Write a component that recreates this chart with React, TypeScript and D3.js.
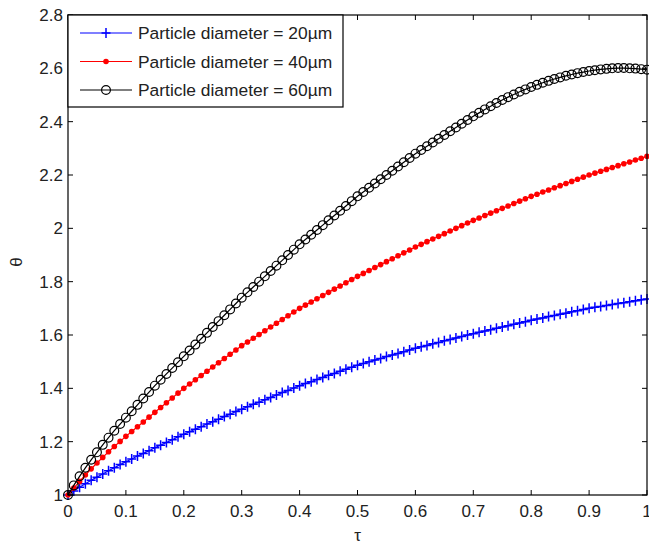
import { scaleLinear, line, range } from 'd3';

// tau grid (0 .. 1, step 0.01)
const tau = range(0, 101).map((i) => i / 100);

// theta values
const d20 = [
  1.0, 1.015, 1.029, 1.042, 1.055, 1.067, 1.079, 1.091, 1.102, 1.114, 1.125,
  1.135, 1.146, 1.156, 1.166, 1.177, 1.187, 1.197, 1.207, 1.218, 1.228,
  1.237, 1.247, 1.256, 1.266, 1.275, 1.284, 1.294, 1.303, 1.313, 1.322,
  1.331, 1.34, 1.348, 1.357, 1.366, 1.375, 1.384, 1.392, 1.401, 1.41,
  1.418, 1.425, 1.433, 1.441, 1.449, 1.456, 1.464, 1.472, 1.479, 1.487,
  1.493, 1.5, 1.506, 1.512, 1.519, 1.525, 1.531, 1.537, 1.544, 1.55,
  1.556, 1.561, 1.567, 1.572, 1.578, 1.583, 1.589, 1.594, 1.6, 1.605,
  1.61, 1.615, 1.62, 1.625, 1.63, 1.635, 1.64, 1.645, 1.65, 1.655,
  1.66, 1.664, 1.669, 1.673, 1.678, 1.682, 1.687, 1.691, 1.696, 1.7,
  1.704, 1.707, 1.711, 1.714, 1.718, 1.721, 1.725, 1.728, 1.732, 1.735,
];

const d40 = [
  1.0, 1.026, 1.051, 1.075, 1.098, 1.12, 1.141, 1.162, 1.182, 1.201, 1.22,
  1.238, 1.256, 1.274, 1.292, 1.31, 1.328, 1.346, 1.364, 1.382, 1.4,
  1.416, 1.432, 1.448, 1.464, 1.48, 1.496, 1.512, 1.528, 1.544, 1.56,
  1.574, 1.588, 1.602, 1.616, 1.63, 1.644, 1.658, 1.672, 1.686, 1.7,
  1.712, 1.724, 1.736, 1.748, 1.76, 1.772, 1.784, 1.796, 1.808, 1.82,
  1.831, 1.842, 1.853, 1.864, 1.875, 1.886, 1.897, 1.908, 1.919, 1.93,
  1.94, 1.95, 1.96, 1.97, 1.98, 1.99, 2.0, 2.01, 2.02, 2.03,
  2.039, 2.048, 2.057, 2.066, 2.075, 2.084, 2.093, 2.102, 2.111, 2.12,
  2.128, 2.136, 2.144, 2.152, 2.16, 2.168, 2.176, 2.184, 2.192, 2.2,
  2.207, 2.214, 2.221, 2.228, 2.235, 2.242, 2.249, 2.256, 2.263, 2.27,
];

const d60 = [
  1.0, 1.036, 1.07, 1.102, 1.132, 1.16, 1.188, 1.215, 1.241, 1.266, 1.29,
  1.314, 1.338, 1.362, 1.386, 1.41, 1.432, 1.454, 1.476, 1.498, 1.52,
  1.542, 1.564, 1.586, 1.608, 1.63, 1.652, 1.674, 1.696, 1.718, 1.74,
  1.76, 1.78, 1.8, 1.82, 1.84, 1.86, 1.88, 1.9, 1.92, 1.94,
  1.958, 1.976, 1.994, 2.012, 2.03, 2.048, 2.066, 2.084, 2.102, 2.12,
  2.136, 2.152, 2.168, 2.184, 2.2, 2.216, 2.232, 2.248, 2.264, 2.28,
  2.294, 2.308, 2.322, 2.336, 2.35, 2.364, 2.378, 2.392, 2.406, 2.42,
  2.433, 2.446, 2.458, 2.47, 2.481, 2.492, 2.502, 2.512, 2.521, 2.53,
  2.538, 2.546, 2.553, 2.56, 2.566, 2.572, 2.577, 2.582, 2.586, 2.59,
  2.593, 2.596, 2.598, 2.6, 2.601, 2.601, 2.6, 2.599, 2.597, 2.595,
];

const xTicks = [0, 0.1, 0.2, 0.3, 0.4, 0.5, 0.6, 0.7, 0.8, 0.9, 1];
const yTicks = [1, 1.2, 1.4, 1.6, 1.8, 2, 2.2, 2.4, 2.6, 2.8];
const legendLabels = [
  'Particle diameter = 20\u00b5m',
  'Particle diameter = 40\u00b5m',
  'Particle diameter = 60\u00b5m',
];

const FONT = '"Liberation Sans", Arial, sans-serif';

const Marker = ({ kind, x, y, color }) => {
  if (kind === 'plus') {
    return (
      <path d={`M${x - 4.5},${y}H${x + 4.5}M${x},${y - 5}V${y + 5}`} stroke={color} strokeWidth={1.5} fill="none" />
    );
  }
  if (kind === 'dot') {
    return <circle cx={x} cy={y} r={2.8} fill={color} />;
  }
  return <circle cx={x} cy={y} r={4.4} fill="none" stroke={color} strokeWidth={1.2} />;
};

const App = () => {
  const width = 649;
  const height = 545;
  const left = 68;
  const right = 647;
  const top = 15;
  const bottom = 495;

  const x = scaleLinear().domain([0, 1]).range([left, right]);
  const y = scaleLinear().domain([1, 2.8]).range([bottom, top]);

  const series = [
    { values: d20, color: '#0000ff', kind: 'plus' },
    { values: d40, color: '#ff0000', kind: 'dot' },
    { values: d60, color: '#000000', kind: 'circle' },
  ];

  const lineGen = line()
    .x((d) => x(d[0]))
    .y((d) => y(d[1]));

  const tick = 5;

  return (
    <svg width={width} height={height} style={{ position: 'absolute', left: 0, top: 0, background: '#fff' }} fontFamily={FONT}>
      <rect x={0} y={0} width={width} height={height} fill="#fff" />

      {series.map((s, si) => {
        const pts = tau.map((t, i) => [t, s.values[i]]);
        return (
          <g key={si}>
            <path d={lineGen(pts)} fill="none" stroke={s.color} strokeWidth={1.2} />
            {pts.map((p, i) => (
              <Marker key={i} kind={s.kind} x={x(p[0])} y={y(p[1])} color={s.color} />
            ))}
          </g>
        );
      })}

      {/* axes box */}
      <rect x={left} y={top} width={right - left} height={bottom - top} fill="none" stroke="#000" strokeWidth={1.2} />

      {xTicks.map((t) => (
        <g key={'x' + t}>
          <line x1={x(t)} x2={x(t)} y1={bottom} y2={bottom - tick} stroke="#000" />
          <line x1={x(t)} x2={x(t)} y1={top} y2={top + tick} stroke="#000" />
          <text x={x(t)} y={517} fontSize={17} textAnchor="middle" fill="#222">
            {t}
          </text>
        </g>
      ))}

      {yTicks.map((t) => (
        <g key={'y' + t}>
          <line x1={left} x2={left + tick} y1={y(t)} y2={y(t)} stroke="#000" />
          <line x1={right} x2={right - tick} y1={y(t)} y2={y(t)} stroke="#000" />
          <text x={63} y={y(t) + 6} fontSize={17} textAnchor="end" fill="#222">
            {t}
          </text>
        </g>
      ))}

      <text x={(left + right) / 2} y={541} fontSize={17} textAnchor="middle" fill="#222">
        τ
      </text>
      <text transform={`translate(22, 262) rotate(-90)`} fontSize={17} textAnchor="middle" fill="#222">
        θ
      </text>

      {/* legend */}
      <g>
        <rect x={68} y={15} width={275} height={92} fill="#fff" stroke="#000" strokeWidth={1.2} />
        {series.map((s, i) => {
          const ly = 33 + i * 28.5;
          return (
            <g key={'l' + i}>
              <line x1={80} x2={132} y1={ly} y2={ly} stroke={s.color} strokeWidth={1.2} />
              <Marker kind={s.kind} x={106} y={ly} color={s.color} />
              <text x={138} y={ly + 6} fontSize={17.4} fill="#222">
                {legendLabels[i]}
              </text>
            </g>
          );
        })}
      </g>
    </svg>
  );
};

export default App;
